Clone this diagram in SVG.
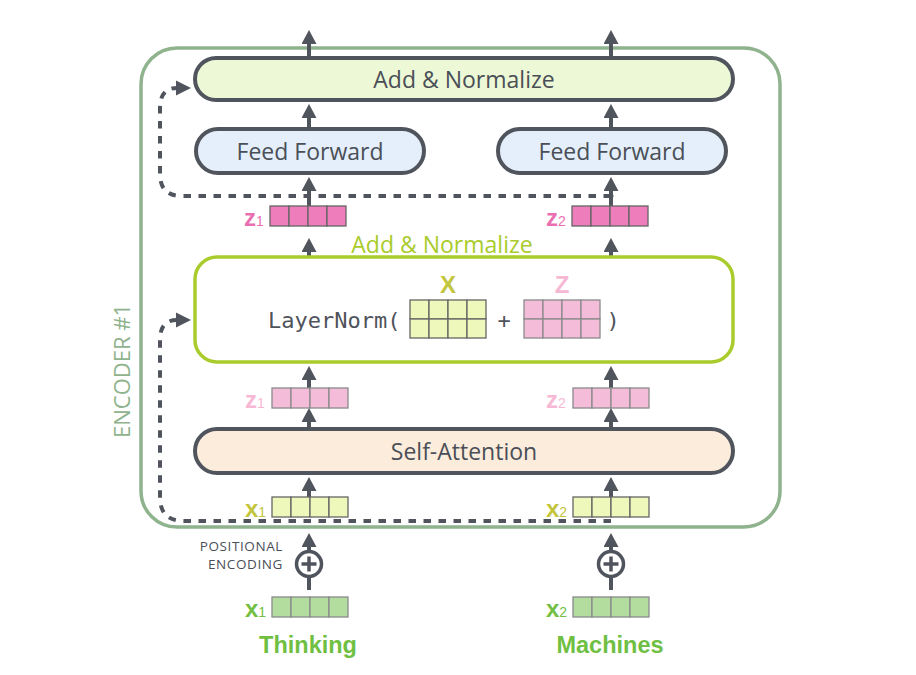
<svg xmlns="http://www.w3.org/2000/svg" width="916" height="675" viewBox="0 0 916 675">
<style>
.box{stroke:#50545c;stroke-width:4}
.lbl{font-family:"Open Sans","DejaVu Sans",sans-serif;font-size:23px;fill:#4a4f57;text-anchor:middle}
.arr{stroke:#50545c;stroke-width:4;fill:none;marker-end:url(#ah)}
.dash{stroke:#50545c;stroke-width:4;fill:none;stroke-dasharray:7.5 7.5}
.cellY{fill:#eef8ba;stroke:#666;stroke-width:1.3}
.cellP{fill:#f5bcd9;stroke:#8a8a8a;stroke-width:1.3}
.cellD{fill:#ee7dbb;stroke:#666;stroke-width:1.3}
.cellG{fill:#b3dc9f;stroke:#8a8a8a;stroke-width:1.3}
.vl{font-family:"Liberation Sans",Arial,sans-serif;font-weight:bold;font-size:24px}
.sub{font-family:"Liberation Sans",Arial,sans-serif;font-size:14px;font-weight:normal}
.mono{font-family:"DejaVu Sans Mono","Liberation Mono",monospace;font-size:22px;fill:#4f535b}
</style>
<defs>
<marker id="ah" viewBox="0 0 14 15" refX="0" refY="7.5" markerWidth="14" markerHeight="15" markerUnits="userSpaceOnUse" orient="auto">
<path d="M0,0 L14,7.5 L0,15 Z" fill="#50545c"/>
</marker>
<g id="vec">
<rect x="0" y="0" width="19" height="20"/><rect x="19" y="0" width="19" height="20"/><rect x="38" y="0" width="19" height="20"/><rect x="57" y="0" width="19" height="20"/>
</g>
<g id="mat">
<rect x="0" y="0" width="19" height="19"/><rect x="19" y="0" width="19" height="19"/><rect x="38" y="0" width="19" height="19"/><rect x="57" y="0" width="19" height="19"/>
<rect x="0" y="19" width="19" height="19"/><rect x="19" y="19" width="19" height="19"/><rect x="38" y="19" width="19" height="19"/><rect x="57" y="19" width="19" height="19"/>
</g>
</defs>
<rect width="916" height="675" fill="#ffffff"/>

<g id="encoder">
<rect x="141" y="48" width="639" height="479" rx="36" fill="none" stroke="#8fb38d" stroke-width="3.5"/>
<text x="0" y="0" transform="translate(130,371) rotate(-90)" font-family="'Open Sans','DejaVu Sans',sans-serif" font-size="22" fill="#8fb38d" text-anchor="middle">ENCODER #1</text>
</g>

<g id="connectors">
<line class="arr" x1="309" y1="56" x2="309" y2="44"/>
<line class="arr" x1="611" y1="56" x2="611" y2="44"/>
<line class="arr" x1="309" y1="127" x2="309" y2="118"/>
<line class="arr" x1="611" y1="127" x2="611" y2="118"/>
<line class="arr" x1="309" y1="206" x2="309" y2="191"/>
<line class="arr" x1="611" y1="206" x2="611" y2="191"/>
<line class="arr" x1="309" y1="256" x2="309" y2="252"/>
<line class="arr" x1="611" y1="256" x2="611" y2="252"/>
<line class="arr" x1="309" y1="388" x2="309" y2="380"/>
<line class="arr" x1="611" y1="388" x2="611" y2="380"/>
<line class="arr" x1="309" y1="428" x2="309" y2="422"/>
<line class="arr" x1="611" y1="428" x2="611" y2="422"/>
<line class="arr" x1="309" y1="497" x2="309" y2="491"/>
<line class="arr" x1="611" y1="497" x2="611" y2="491"/>
<line class="arr" x1="309" y1="551" x2="309" y2="547"/>
<line class="arr" x1="611" y1="551" x2="611" y2="547"/>
<line x1="309" y1="576" x2="309" y2="590" stroke="#50545c" stroke-width="4"/>
<line x1="611" y1="576" x2="611" y2="590" stroke="#50545c" stroke-width="4"/>
<path class="dash" d="M611,196 H182 Q160,196 160,174 V108 Q160,88 177,88"/>
<polygon points="176,80.5 191,88 176,95.5" fill="#50545c"/>
<path class="dash" d="M611,521 H184 Q160,521 160,497 V340 Q160,320 177,320"/>
<polygon points="176,312.5 191,320 176,327.5" fill="#50545c"/>
<circle cx="611" cy="196" r="2.5" fill="#50545c"/>
</g>

<g id="add-norm-top">
<rect class="box" x="195" y="58" width="538" height="42" rx="21" fill="#edf8d6"/>
<text class="lbl" x="464" y="88">Add &amp; Normalize</text>
</g>

<g id="ff1">
<rect class="box" x="196" y="129" width="228" height="44" rx="22" fill="#e4effb"/>
<text class="lbl" x="310" y="160">Feed Forward</text>
</g>
<g id="ff2">
<rect class="box" x="498" y="129" width="228" height="44" rx="22" fill="#e4effb"/>
<text class="lbl" x="612" y="160">Feed Forward</text>
</g>

<g id="z1-out">
<use href="#vec" x="270" y="206" class="cellD"/>
<text class="vl" x="244" y="226" fill="#ea6fb1">z<tspan class="sub">1</tspan></text>
</g>
<g id="z2-out">
<use href="#vec" x="572" y="206" class="cellD"/>
<text class="vl" x="546" y="226" fill="#ea6fb1">z<tspan class="sub">2</tspan></text>
</g>

<g id="layernorm">
<text x="442" y="253" font-family="'Open Sans','DejaVu Sans',sans-serif" font-size="23" fill="#a9cb2c" text-anchor="middle">Add &amp; Normalize</text>
<rect x="195" y="257" width="538" height="105" rx="22" fill="#ffffff" stroke="#a9cb2c" stroke-width="3.5"/>
<text x="268" y="328" class="mono">LayerNorm(</text>
<text x="448" y="293" class="vl" fill="#c3c53c" text-anchor="middle">X</text>
<use href="#mat" x="410" y="300" class="cellY"/>
<text x="504" y="328" class="mono" text-anchor="middle">+</text>
<text x="562" y="293" class="vl" fill="#f5b9d4" text-anchor="middle">Z</text>
<use href="#mat" x="524" y="300" class="cellP"/>
<text x="613" y="328" class="mono" text-anchor="middle">)</text>
</g>

<g id="z1-in">
<use href="#vec" x="272" y="388" class="cellP"/>
<text class="vl" x="245" y="408" fill="#f7b8d4">z<tspan class="sub">1</tspan></text>
</g>
<g id="z2-in">
<use href="#vec" x="573" y="388" class="cellP"/>
<text class="vl" x="546" y="408" fill="#f7b8d4">z<tspan class="sub">2</tspan></text>
</g>

<g id="self-attention">
<rect class="box" x="195" y="429" width="538" height="44" rx="22" fill="#fcecdc"/>
<text class="lbl" x="464" y="460">Self-Attention</text>
</g>

<g id="x1-in">
<use href="#vec" x="272" y="497" class="cellY"/>
<text class="vl" x="245" y="517" fill="#c3c53c">x<tspan class="sub">1</tspan></text>
</g>
<g id="x2-in">
<use href="#vec" x="573" y="497" class="cellY"/>
<text class="vl" x="546" y="517" fill="#c3c53c">x<tspan class="sub">2</tspan></text>
</g>

<g id="pe1">
<circle cx="309" cy="564" r="12.5" fill="#ffffff" stroke="#50545c" stroke-width="3.5"/>
<path d="M301.5,564 H316.5 M309,556.5 V571.5" stroke="#50545c" stroke-width="3.5"/>
<text x="283" y="551" font-family="'Open Sans','DejaVu Sans',sans-serif" font-size="13.5" letter-spacing="0.6" fill="#4a4f57" text-anchor="end">POSITIONAL</text>
<text x="283" y="569" font-family="'Open Sans','DejaVu Sans',sans-serif" font-size="13.5" letter-spacing="0.6" fill="#4a4f57" text-anchor="end">ENCODING</text>
</g>
<g id="pe2">
<circle cx="611" cy="564" r="12.5" fill="#ffffff" stroke="#50545c" stroke-width="3.5"/>
<path d="M603.5,564 H618.5 M611,556.5 V571.5" stroke="#50545c" stroke-width="3.5"/>
</g>

<g id="x1-emb">
<use href="#vec" x="272" y="597" class="cellG"/>
<text class="vl" x="245" y="617" fill="#72bf44">x<tspan class="sub">1</tspan></text>
</g>
<g id="x2-emb">
<use href="#vec" x="573" y="597" class="cellG"/>
<text class="vl" x="546" y="617" fill="#72bf44">x<tspan class="sub">2</tspan></text>
</g>

<g id="word1"><text x="308" y="653" font-family="'Liberation Sans',Arial,sans-serif" font-weight="bold" font-size="23.5" fill="#6fbf43" text-anchor="middle">Thinking</text></g>
<g id="word2"><text x="610" y="653" font-family="'Liberation Sans',Arial,sans-serif" font-weight="bold" font-size="23.5" fill="#6fbf43" text-anchor="middle">Machines</text></g>
</svg>
